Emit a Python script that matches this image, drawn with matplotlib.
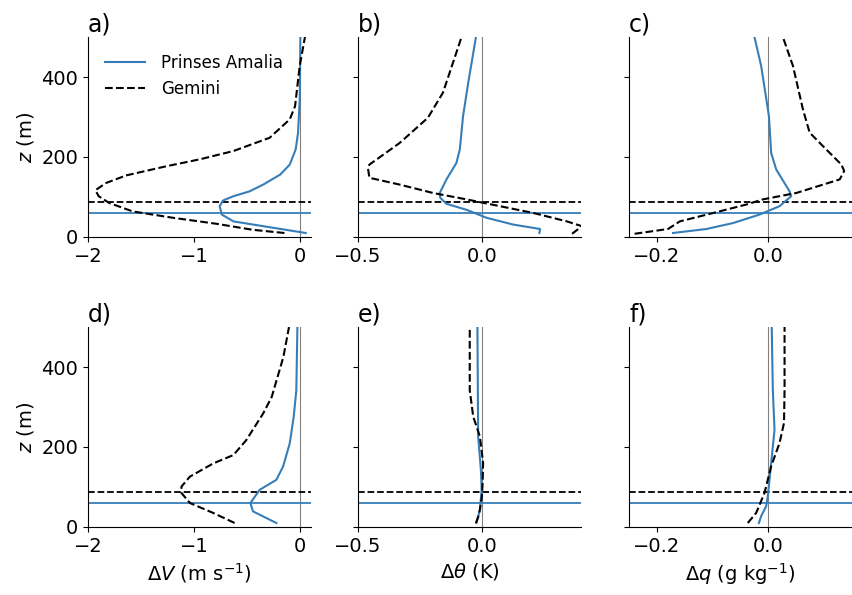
import matplotlib
matplotlib.use('Agg')
import matplotlib.pyplot as plt

blue = '#377eb8'

# panel a) wind speed difference, top row
z_a_pa = [10, 39, 56, 77, 91, 102, 114, 131, 156, 181, 219, 260, 344, 500]
x_a_pa = [0.05, -0.63, -0.74, -0.76, -0.73, -0.63, -0.48, -0.35, -0.19, -0.10, -0.044, -0.022, -0.006, 0.0]
z_a_ge = [10, 18, 33, 48, 64, 85, 102, 117, 135, 154, 177, 194, 215, 248, 294, 327, 428, 510]
x_a_ge = [-0.15, -0.45, -0.79, -1.2, -1.58, -1.8, -1.9, -1.93, -1.83, -1.64, -1.26, -0.95, -0.63, -0.29, -0.10, -0.05, -0.006, 0.05]

# panel b) potential temperature
z_b_pa = [10, 20, 31, 48, 68, 83, 98, 110, 144, 185, 219, 302, 386, 500]
x_b_pa = [0.232, 0.235, 0.127, 0.019, -0.062, -0.143, -0.168, -0.17, -0.143, -0.103, -0.089, -0.076, -0.055, -0.024]
z_b_ge = [8, 27, 39, 60, 77, 94, 110, 131, 148, 173, 181, 235, 298, 361, 500]
x_b_ge = [0.364, 0.404, 0.343, 0.208, 0.073, -0.062, -0.197, -0.332, -0.454, -0.46, -0.454, -0.332, -0.218, -0.157, -0.082]

# panel c) specific humidity
z_c_pa = [10, 20, 35, 56, 77, 102, 114, 169, 210, 302, 428, 500]
x_c_pa = [-0.171, -0.111, -0.063, -0.016, 0.020, 0.041, 0.038, 0.014, 0.005, 0.001, -0.013, -0.025]
z_c_ge = [8, 20, 39, 60, 81, 94, 110, 144, 165, 181, 227, 261, 319, 428, 500]
x_c_ge = [-0.240, -0.180, -0.159, -0.099, -0.040, -0.010, 0.050, 0.128, 0.136, 0.131, 0.098, 0.074, 0.062, 0.044, 0.026]

# panel d)
z_d_pa = [10, 39, 60, 93, 118, 151, 209, 275, 342, 500]
x_d_pa = [-0.226, -0.446, -0.471, -0.383, -0.226, -0.163, -0.10, -0.063, -0.038, -0.028]
z_d_ge = [10, 35, 60, 85, 101, 126, 159, 180, 217, 284, 325, 425, 500]
x_d_ge = [-0.619, -0.82, -1.04, -1.12, -1.12, -1.04, -0.82, -0.63, -0.51, -0.35, -0.27, -0.16, -0.107]

# panel e)
z_e_pa = [10, 43, 93, 143, 226, 500]
x_e_pa = [-0.022, -0.008, -0.001, -0.004, -0.015, -0.018]
z_e_ge = [10, 25, 43, 76, 110, 160, 226, 276, 342, 500]
x_e_ge = [-0.024, -0.015, -0.008, 0.0, 0.003, 0.005, -0.008, -0.035, -0.049, -0.049]

# panel f)
z_f_pa = [10, 27, 52, 77, 160, 243, 342, 500]
x_f_pa = [-0.017, -0.013, -0.004, -0.001, 0.005, 0.011, 0.008, 0.006]
z_f_ge = [10, 35, 85, 152, 210, 260, 342, 500]
x_f_ge = [-0.037, -0.022, -0.007, 0.005, 0.020, 0.028, 0.029, 0.029]

hub_pa = 59
hub_ge = 88

panels = ['a)', 'b)', 'c)', 'd)', 'e)', 'f)']
xlims = [(-2, 0.1), (-0.5, 0.4), (-0.25, 0.15)]
xticks = [[-2, -1, 0], [-0.5, 0.0], [-0.2, 0.0]]
xlabels = [r'$\Delta V$ (m s$^{-1}$)', r'$\Delta\theta$ (K)', r'$\Delta q$ (g kg$^{-1}$)']

pa = [(x_a_pa, z_a_pa), (x_b_pa, z_b_pa), (x_c_pa, z_c_pa),
      (x_d_pa, z_d_pa), (x_e_pa, z_e_pa), (x_f_pa, z_f_pa)]
ge = [(x_a_ge, z_a_ge), (x_b_ge, z_b_ge), (x_c_ge, z_c_ge),
      (x_d_ge, z_d_ge), (x_e_ge, z_e_ge), (x_f_ge, z_f_ge)]

plt.rcParams['font.size'] = 14
plt.rcParams['axes.unicode_minus'] = True

fig = plt.figure(figsize=(8.52, 5.95), dpi=100)
lefts = [0.1033, 0.4202, 0.7383]
bottoms = [0.6017, 0.1143]
w, h = 0.2617, 0.3361

for i in range(6):
    r, c = divmod(i, 3)
    ax = fig.add_axes([lefts[c], bottoms[r], w, h])
    ax.axvline(0, color='grey', lw=0.8)
    ax.axhline(hub_pa, color=blue, lw=1.3)
    ax.axhline(hub_ge, color='k', lw=1.3, ls='--')
    ax.plot(pa[i][0], pa[i][1], color=blue, lw=1.5, label='Prinses Amalia')
    ax.plot(ge[i][0], ge[i][1], color='k', lw=1.5, ls='--', label='Gemini')
    ax.set_xlim(xlims[c])
    ax.set_xticks(xticks[c])
    ax.set_ylim(0, 500)
    ax.set_yticks([0, 200, 400])
    ax.spines['top'].set_visible(False)
    ax.spines['right'].set_visible(False)
    ax.set_title(panels[i], loc='left', fontsize=17, pad=4)
    if c == 0:
        ax.set_ylabel(r'$z$ (m)')
    else:
        ax.set_yticklabels([])
    if r == 1:
        ax.set_xlabel(xlabels[c])
    if i == 0:
        ax.legend(loc='upper left', frameon=False, fontsize=12,
                  handlelength=2.4, handletextpad=1.0, borderaxespad=0.6)

fig.savefig('out.png', dpi=100)
